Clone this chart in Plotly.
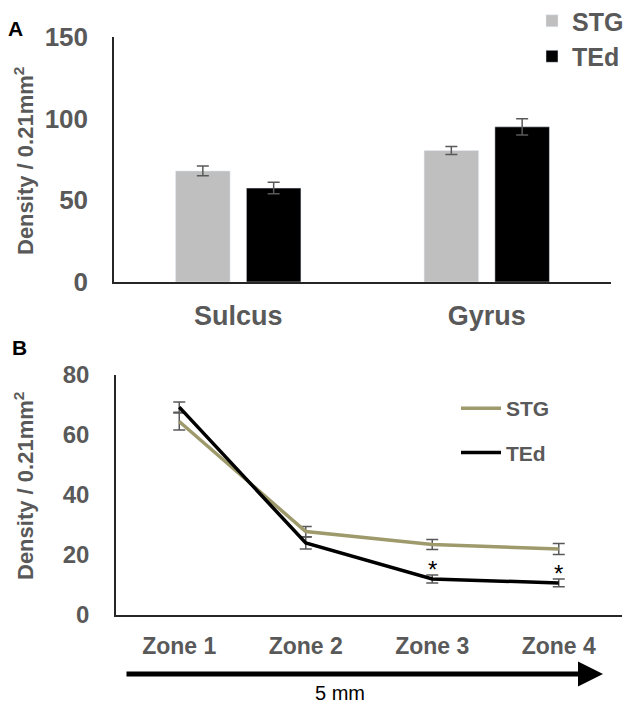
import plotly.graph_objects as go

# Panel A: density by region (bars)
regions = ["Sulcus", "Gyrus"]
stg_bar = [68, 80.5]
stg_bar_err = [3, 2.5]
ted_bar = [57.5, 95]
ted_bar_err = [3.5, 5]

# Panel B: density by zone (lines)
zones = ["Zone 1", "Zone 2", "Zone 3", "Zone 4"]
stg_line = [64.5, 27.8, 23.5, 22]
stg_line_err = [2.8, 1.7, 1.7, 1.8]
ted_line = [69.3, 24, 12, 10.7]
ted_line_err = [1.7, 2, 1.3, 1.3]
significant = ["Zone 3", "Zone 4"]

FONT = "Liberation Sans, Arial, sans-serif"
GRAY = "#595959"
OLIVE = "#9E9A6C"
W, H = 638, 716

fig = go.Figure()

err_style = dict(type="data", color=GRAY, thickness=1.5, width=6)

fig.add_trace(go.Bar(
    x=regions, y=stg_bar, name="STG", marker_color="#BFBFBF",
    error_y=dict(array=stg_bar_err, **err_style),
    xaxis="x", yaxis="y", legend="legend", legendgroup="a1",
))
fig.add_trace(go.Bar(
    x=regions, y=ted_bar, name="TEd", marker_color="#000000",
    error_y=dict(array=ted_bar_err, **err_style),
    xaxis="x", yaxis="y", legend="legend", legendgroup="a2",
))

fig.add_trace(go.Scatter(
    x=zones, y=stg_line, name="STG", mode="lines",
    line=dict(color=OLIVE, width=3.5),
    error_y=dict(array=stg_line_err, **err_style),
    xaxis="x2", yaxis="y2", legend="legend2", legendgroup="b1",
))
fig.add_trace(go.Scatter(
    x=zones, y=ted_line, name="TEd", mode="lines",
    line=dict(color="#000000", width=3.5),
    error_y=dict(array=ted_line_err, **err_style),
    xaxis="x2", yaxis="y2", legend="legend2", legendgroup="b2",
))

axis_common = dict(showline=True, linecolor="#262626", linewidth=1.5,
                   showgrid=False, zeroline=False, ticks="", automargin=False)

fig.update_layout(
    width=W, height=H,
    margin=dict(l=0, r=0, t=0, b=0, autoexpand=False),
    paper_bgcolor="white", plot_bgcolor="white",
    font=dict(family=FONT, color=GRAY),
    barmode="group", bargap=0.43, bargroupgap=0.23,
    xaxis=dict(domain=[114 / W, 611 / W], anchor="y",
               tickfont=dict(size=27, family=FONT, color=GRAY, weight="bold"),
               ticklabelstandoff=9, **axis_common),
    yaxis=dict(domain=[1 - 282 / H, 1 - 37 / H], anchor="x", range=[0, 150],
               tickvals=[0, 50, 100, 150],
               tickfont=dict(size=26, family=FONT, color=GRAY, weight="bold"),
               ticklabelstandoff=19, **axis_common),
    xaxis2=dict(domain=[116 / W, 622 / W], anchor="y2", range=[-0.5, 3.5],
                tickfont=dict(size=23, family=FONT, color=GRAY, weight="bold"),
                ticklabelstandoff=10, **axis_common),
    yaxis2=dict(domain=[1 - 615 / H, 1 - 375 / H], anchor="x2", range=[0, 80],
                tickvals=[0, 20, 40, 60, 80],
                tickfont=dict(size=24, family=FONT, color=GRAY, weight="bold"),
                ticklabelstandoff=20, **axis_common),
    legend=dict(x=532 / W, y=1 + 2 / H, xanchor="left", yanchor="top",
                font=dict(size=25, family=FONT, color=GRAY, weight="bold"),
                tracegroupgap=0, itemwidth=30, bgcolor="rgba(0,0,0,0)"),
    legend2=dict(x=456 / W, y=1 - 388 / H, xanchor="left", yanchor="top",
                 font=dict(size=21, family=FONT, color=GRAY, weight="bold"),
                 tracegroupgap=14, itemwidth=40, bgcolor="rgba(0,0,0,0)"),
    showlegend=True,
)

annotations = [
    dict(text="A", x=15 / W, y=1 - 28 / H, xref="paper", yref="paper",
         xanchor="center", yanchor="middle", showarrow=False,
         font=dict(size=21, color="black", weight="bold")),
    dict(text="B", x=20 / W, y=1 - 347 / H, xref="paper", yref="paper",
         xanchor="center", yanchor="middle", showarrow=False,
         font=dict(size=21, color="black", weight="bold")),
    dict(text="Density / 0.21mm<sup>2</sup>", x=24 / W, y=1 - 161 / H,
         xref="paper", yref="paper", xanchor="center", yanchor="middle",
         textangle=-90, showarrow=False,
         font=dict(size=22, color=GRAY, weight="bold")),
    dict(text="Density / 0.21mm<sup>2</sup>", x=24 / W, y=1 - 486 / H,
         xref="paper", yref="paper", xanchor="center", yanchor="middle",
         textangle=-90, showarrow=False,
         font=dict(size=22, color=GRAY, weight="bold")),
    # distance arrow under the zones
    dict(text="", x=603 / W, y=1 - 674 / H, xref="paper", yref="paper",
         ax=-478, ay=0, showarrow=True, arrowhead=2, arrowsize=1,
         arrowwidth=5, arrowcolor="black"),
    dict(text="5 mm", x=340 / W, y=1 - 693 / H, xref="paper", yref="paper",
         xanchor="center", yanchor="middle", showarrow=False,
         font=dict(size=20, color="black")),
]

for z in significant:
    i = zones.index(z)
    annotations.append(dict(
        text="*", x=z, y=ted_line[i] + ted_line_err[i], xref="x2", yref="y2",
        xanchor="center", yanchor="middle", yshift=6, showarrow=False,
        font=dict(size=24, color="black"),
    ))

fig.update_layout(annotations=annotations)

fig.write_html("out.html", config={"displayModeBar": False},
               post_script="document.body.style.margin='0px';")
